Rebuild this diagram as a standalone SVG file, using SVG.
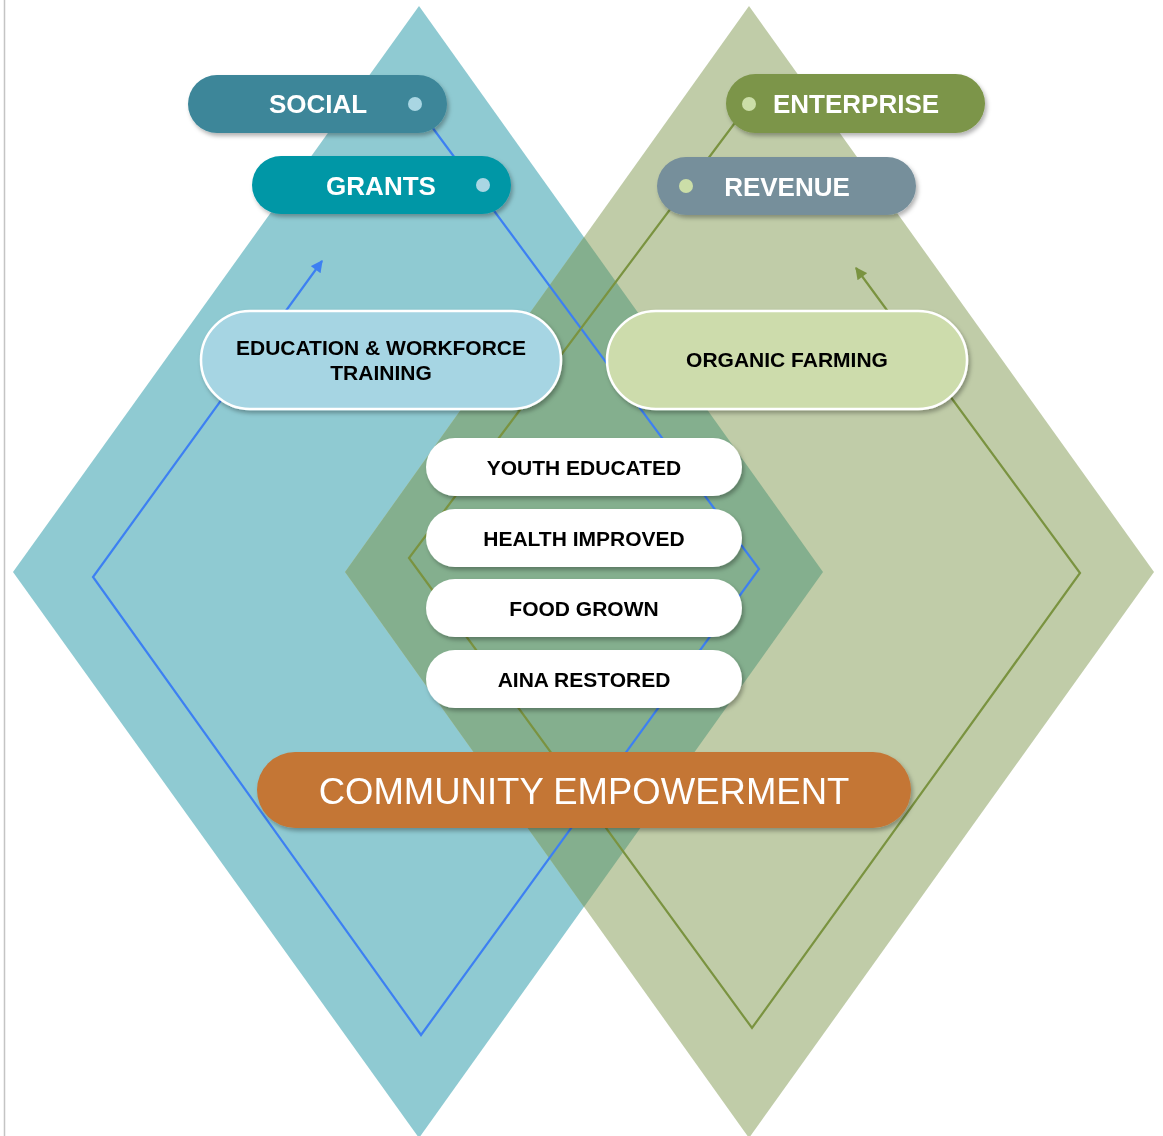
<svg xmlns="http://www.w3.org/2000/svg" width="1163" height="1136" viewBox="0 0 1163 1136">
<defs>
<filter id="sh" x="-10%" y="-20%" width="125%" height="150%">
<feDropShadow dx="2" dy="3" stdDeviation="2" flood-color="#000" flood-opacity="0.3"/>
</filter>
<marker id="ab" viewBox="0 0 10 10" refX="9" refY="5" markerWidth="14" markerHeight="12" orient="auto" markerUnits="userSpaceOnUse">
<path d="M0,0 L10,5 L0,10 z" fill="#3D80F2"/>
</marker>
<marker id="ag" viewBox="0 0 10 10" refX="9" refY="5" markerWidth="14" markerHeight="12" orient="auto" markerUnits="userSpaceOnUse">
<path d="M0,0 L10,5 L0,10 z" fill="#7A9340"/>
</marker>
<style>
.b{font-family:"Liberation Sans",Arial,sans-serif;font-weight:bold;text-anchor:middle}
.w{fill:#fff}
.k{fill:#000}
.pill{filter:url(#sh)}
</style>
</defs>
<rect width="1163" height="1136" fill="#fff"/>
<line x1="4.5" y1="0" x2="4.5" y2="1136" stroke="#C4C4C4" stroke-width="1.5"/>
<g id="diamonds">
<polygon points="419,6 823,572 419,1138 13,572" fill="#8FCAD2"/>
<polygon points="749,6 1154,572 749,1138 345,572" fill="#C0CCA8"/>
<polygon points="584,237 823,572 584,907 345,572" fill="#84AF8E"/>
</g>
<g id="connectors" fill="none" stroke-width="2.2">
<path d="M415,104 L759,569 L421,1035 L93,577 L322,261" stroke="#3D80F2" marker-end="url(#ab)"/>
<path d="M749,104 L409,558 L752,1028 L1080,573 L856,268" stroke="#7A9340" marker-end="url(#ag)"/>
</g>
<g id="social" class="pill">
<rect x="188" y="75" width="259" height="58" rx="29" fill="#3C8699"/>
<text x="318" y="113" class="b w" font-size="26">SOCIAL</text>
<circle cx="415" cy="104" r="7" fill="#A9D6E3"/>
</g>
<g id="grants" class="pill">
<rect x="252" y="156" width="259" height="58" rx="29" fill="#0097A6"/>
<text x="381" y="195" class="b w" font-size="26">GRANTS</text>
<circle cx="483" cy="185" r="7" fill="#A9D6E3"/>
</g>
<g id="enterprise" class="pill">
<rect x="726" y="74" width="259" height="59" rx="29.5" fill="#7C9548"/>
<text x="856" y="113" class="b w" font-size="26">ENTERPRISE</text>
<circle cx="749" cy="104" r="7" fill="#CBDEA8"/>
</g>
<g id="revenue" class="pill">
<rect x="657" y="157" width="259" height="58" rx="29" fill="#768F9B"/>
<text x="787" y="196" class="b w" font-size="26">REVENUE</text>
<circle cx="686" cy="186" r="7" fill="#CBDEA8"/>
</g>
<g id="education" class="pill">
<rect x="201" y="311" width="360" height="98" rx="49" fill="#A6D5E3" stroke="#fff" stroke-width="2.5"/>
<text x="381" y="355" class="b k" font-size="21">EDUCATION &amp; WORKFORCE</text>
<text x="381" y="380" class="b k" font-size="21">TRAINING</text>
</g>
<g id="organic" class="pill">
<rect x="607" y="311" width="360" height="98" rx="49" fill="#CDDCAC" stroke="#fff" stroke-width="2.5"/>
<text x="787" y="367" class="b k" font-size="21">ORGANIC FARMING</text>
</g>
<g id="youth" class="pill">
<rect x="426" y="438" width="316" height="58" rx="29" fill="#fff"/>
<text x="584" y="475" class="b k" font-size="21">YOUTH EDUCATED</text>
</g>
<g id="health" class="pill">
<rect x="426" y="509" width="316" height="58" rx="29" fill="#fff"/>
<text x="584" y="546" class="b k" font-size="21">HEALTH IMPROVED</text>
</g>
<g id="food" class="pill">
<rect x="426" y="579" width="316" height="58" rx="29" fill="#fff"/>
<text x="584" y="616" class="b k" font-size="21">FOOD GROWN</text>
</g>
<g id="aina" class="pill">
<rect x="426" y="650" width="316" height="58" rx="29" fill="#fff"/>
<text x="584" y="687" class="b k" font-size="21">AINA RESTORED</text>
</g>
<g id="community" class="pill">
<rect x="257" y="752" width="654" height="76" rx="38" fill="#C47636"/>
<text x="584" y="804" font-family="Liberation Sans, Arial, sans-serif" font-size="36.5" fill="#fff" text-anchor="middle">COMMUNITY EMPOWERMENT</text>
</g>
</svg>
